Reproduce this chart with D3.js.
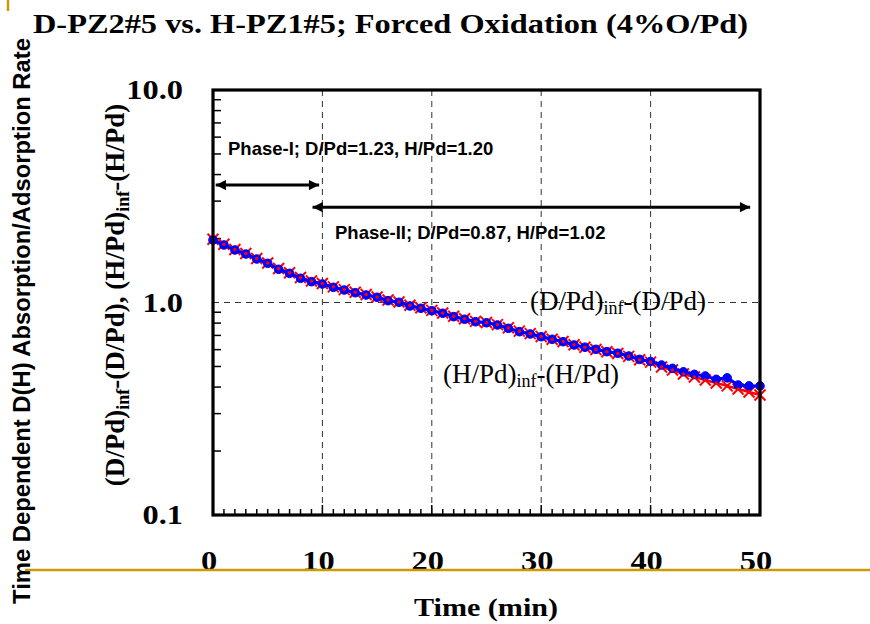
<!DOCTYPE html>
<html><head><meta charset="utf-8">
<script src="https://cdn.jsdelivr.net/npm/d3@7"></script>
<style>body{margin:0;background:#fff}</style>
</head><body>
<svg id="c" width="870" height="624" xmlns="http://www.w3.org/2000/svg"></svg>
<script>
// ---- data ----
const timeMin = [0,1,2,3,4,5,6,7,8,9,10,11,12,13,14,15,16,17,18,19,20,21,22,23,24,25,26,27,28,29,30,31,32,33,34,35,36,37,38,39,40,41,42,43,44,45,46,47,48,49,50];
const dPdSeries = [1.968,1.865,1.767,1.691,1.602,1.529,1.433,1.372,1.300,1.253,1.222,1.179,1.145,1.112,1.085,1.058,1.020,1.002,0.963,0.939,0.915,0.890,0.858,0.834,0.812,0.803,0.784,0.756,0.729,0.711,0.690,0.671,0.654,0.631,0.616,0.602,0.587,0.577,0.560,0.540,0.528,0.508,0.490,0.472,0.459,0.451,0.435,0.442,0.409,0.405,0.405];
const hPdSeries = [1.985,1.880,1.775,1.700,1.610,1.535,1.445,1.380,1.310,1.262,1.228,1.185,1.150,1.118,1.090,1.062,1.028,1.005,0.970,0.944,0.918,0.893,0.862,0.838,0.815,0.805,0.787,0.760,0.733,0.714,0.692,0.672,0.655,0.633,0.616,0.601,0.586,0.575,0.558,0.538,0.524,0.497,0.481,0.461,0.446,0.432,0.418,0.405,0.392,0.379,0.367];
const xTickValues = [0,10,20,30,40,50];
const xTickLabels = ["0","10","20","30","40","50"];
const yTickValues = [0.1,1,10];
const yTickLabels = ["0.1","1.0","10.0"];
const xGridValues = [10,20,30,40];
const yGridValues = [1];
const phaseNames = ["Phase-I; D/Pd=1.23, H/Pd=1.20","Phase-II; D/Pd=0.87, H/Pd=1.02"];
const phaseFrom = [0.25, 9.1];
const phaseTo = [9.7, 49.1];
const phaseLevel = [3.57, 2.81];
const titleText = "D-PZ2#5 vs. H-PZ1#5; Forced Oxidation (4%O/Pd)";
const xTitle = "Time (min)";
const yOuterTitle = "Time Dependent D(H) Absorption/Adsorption Rate";

// ---- layout ----
const svg = d3.select("#c");
const L = 213, R = 760, T = 90, B = 515;
const x = d3.scaleLinear().domain([0,50]).range([L,R]);
const y = d3.scaleLog().domain([0.1,10]).range([B,T]);
const serif = "'Liberation Serif','Times New Roman',serif";
const sans = "'Liberation Sans',Arial,sans-serif";
const SX = 1.2; // horizontal stretch of serif bold labels

// arrowhead
svg.append("defs").append("marker").attr("id","ah").attr("viewBox","0 0 10 10")
  .attr("refX",10).attr("refY",5).attr("markerWidth",4.2).attr("markerHeight",3.4)
  .attr("markerUnits","strokeWidth").attr("orient","auto-start-reverse")
  .append("path").attr("d","M0,0 L10,5 L0,10 z").attr("fill","#000");

// gridlines
const g = svg.append("g");
g.selectAll(".vg").data(xGridValues).join("line")
  .attr("x1",d=>x(d)).attr("x2",d=>x(d)).attr("y1",T).attr("y2",B)
  .attr("stroke","#333").attr("stroke-width",1).attr("stroke-dasharray","6,5");
g.selectAll(".hg").data(yGridValues).join("line")
  .attr("x1",L).attr("x2",R).attr("y1",d=>y(d)).attr("y2",d=>y(d))
  .attr("stroke","#333").attr("stroke-width",1).attr("stroke-dasharray","6,5");

// ticks (inward)
const xMinor = d3.range(1,50).filter(v=>v%10!==0);
g.selectAll(".xm").data(xMinor).join("line")
  .attr("x1",d=>x(d)).attr("x2",d=>x(d)).attr("y1",B).attr("y2",B-6)
  .attr("stroke","#000").attr("stroke-width",1.5);
g.selectAll(".xM").data(xTickValues).join("line")
  .attr("x1",d=>x(d)).attr("x2",d=>x(d)).attr("y1",B).attr("y2",B-10)
  .attr("stroke","#000").attr("stroke-width",1.5);
const yMinor = y.ticks().filter(v=>yTickValues.indexOf(v)<0);
g.selectAll(".ym").data(yMinor).join("line")
  .attr("x1",L).attr("x2",L+8).attr("y1",d=>y(d)).attr("y2",d=>y(d))
  .attr("stroke","#000").attr("stroke-width",1.5);

// data
const line = d3.line().x((d,i)=>x(timeMin[i])).y(d=>y(d));
const redG = svg.append("g");
redG.append("path").datum(hPdSeries).attr("d",line).attr("fill","none").attr("stroke","#ff0000").attr("stroke-width",2.5);
redG.selectAll("path.x").data(hPdSeries).join("path").attr("class","x")
  .attr("d",(d,i)=>{const cx=x(timeMin[i]),cy=y(d),s=5.5;return `M${cx-s},${cy-s}L${cx+s},${cy+s}M${cx-s},${cy+s}L${cx+s},${cy-s}`;})
  .attr("stroke","#ff0000").attr("stroke-width",2);
const blueG = svg.append("g");
blueG.append("path").datum(dPdSeries).attr("d",line).attr("fill","none").attr("stroke","#0000ff").attr("stroke-width",3);
blueG.selectAll("circle").data(dPdSeries).join("circle")
  .attr("cx",(d,i)=>x(timeMin[i])).attr("cy",d=>y(d)).attr("r",4.3)
  .attr("fill","#0000ff").attr("stroke","#0000ff").attr("stroke-width",1);
svg.append("g").selectAll("circle").data(hPdSeries).join("circle")
  .attr("cx",(d,i)=>x(timeMin[i])).attr("cy",d=>y(d)).attr("r",1.8).attr("fill","#ff0000");

// frame
svg.append("rect").attr("x",L).attr("y",T).attr("width",R-L).attr("height",B-T)
  .attr("fill","none").attr("stroke","#000").attr("stroke-width",3.2);

// phase arrows
phaseNames.forEach((n,i)=>{
  svg.append("line").attr("x1",x(phaseFrom[i])).attr("x2",x(phaseTo[i]))
    .attr("y1",y(phaseLevel[i])).attr("y2",y(phaseLevel[i]))
    .attr("stroke","#000").attr("stroke-width",3)
    .attr("marker-start","url(#ah)").attr("marker-end","url(#ah)");
});
svg.append("text").attr("x",228).attr("y",155).attr("font-family",sans).attr("font-weight","bold")
  .attr("font-size",18.5).text(phaseNames[0]);
svg.append("text").attr("x",335).attr("y",239).attr("font-family",sans).attr("font-weight","bold")
  .attr("font-size",18.5).text(phaseNames[1]);

// series labels
function subLabel(sel, parts){
  parts.forEach(p=>{
    const t = sel.append("tspan").text(p[0]);
    if(p[1]) t.attr("font-size",p[1]);
    if(p[2]) t.attr("dy",p[2]);
  });
}
subLabel(svg.append("text").attr("x",530).attr("y",310).attr("font-family",serif).attr("font-size",27),
  [["(D/Pd)"],["inf",18,4],["-(D/Pd)",null,-4]]);
subLabel(svg.append("text").attr("x",443).attr("y",383).attr("font-family",serif).attr("font-size",27),
  [["(H/Pd)"],["inf",18,4],["-(H/Pd)",null,-4]]);

// tick labels (slightly wide serif bold)
svg.append("g").selectAll("text").data(yTickValues).join("text")
  .attr("transform",d=>`translate(183,${y(d)+9}) scale(${SX},1)`).attr("text-anchor","end")
  .attr("font-family",serif).attr("font-weight","bold").attr("font-size",27)
  .text((d,i)=>yTickLabels[i]);
svg.append("g").selectAll("text").data(xTickValues).join("text")
  .attr("transform",d=>`translate(${x(d)-4},570) scale(${SX},1)`).attr("text-anchor","middle")
  .attr("font-family",serif).attr("font-weight","bold").attr("font-size",27)
  .text((d,i)=>xTickLabels[i]);

// titles
svg.append("text").attr("x",33).attr("y",33).attr("font-family",serif).attr("font-weight","bold")
  .attr("font-size",28).attr("textLength",715).attr("lengthAdjust","spacingAndGlyphs").text(titleText);
svg.append("text").attr("x",414).attr("y",616).attr("font-family",serif)
  .attr("font-weight","bold").attr("font-size",26).attr("textLength",144).attr("lengthAdjust","spacingAndGlyphs").text(xTitle);
svg.append("text").attr("transform","translate(30,321) rotate(-90)").attr("text-anchor","middle")
  .attr("font-family",sans).attr("font-weight","bold").attr("font-size",23.8).text(yOuterTitle);
const yi = svg.append("text").attr("transform","translate(124,295) rotate(-90)").attr("text-anchor","middle")
  .attr("font-family",serif).attr("font-weight","bold").attr("font-size",27);
subLabel(yi,[["(D/Pd)"],["inf",18,5],["-(D/Pd), (H/Pd)",null,-5],["inf",18,5],["-(H/Pd)",null,-5]]);

// decorative gold rules
svg.append("line").attr("x1",25).attr("x2",870).attr("y1",570).attr("y2",570)
  .attr("stroke","#CC9A06").attr("stroke-width",2.5);
svg.append("line").attr("x1",8).attr("x2",8).attr("y1",0).attr("y2",11)
  .attr("stroke","#CC9A06").attr("stroke-width",2.5);
</script>
</body></html>
